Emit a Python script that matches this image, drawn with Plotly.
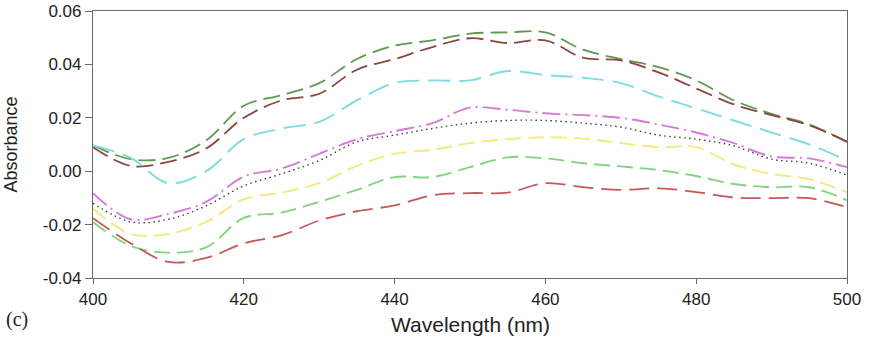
import plotly.graph_objects as go

wavelength = [400, 405, 410, 415, 420, 425, 430, 435, 440, 445, 450,
              455, 460, 465, 470, 475, 480, 485, 490, 495, 500]

dark_green = [0.0097, 0.0045, 0.0050, 0.0115, 0.0245, 0.0285, 0.0330, 0.0420, 0.0470, 0.0490, 0.0515,
              0.0520, 0.0520, 0.0455, 0.0420, 0.0390, 0.0340, 0.0265, 0.0215, 0.0175, 0.0110]
brown = [0.0090, 0.0020, 0.0035, 0.0085, 0.0200, 0.0265, 0.0290, 0.0380, 0.0420, 0.0465, 0.0498,
         0.0480, 0.0490, 0.0425, 0.0415, 0.0370, 0.0310, 0.0250, 0.0210, 0.0172, 0.0110]
cyan = [0.0097, 0.0050, -0.0045, 0.0000, 0.0120, 0.0160, 0.0185, 0.0265, 0.0330, 0.0340, 0.0340,
        0.0375, 0.0360, 0.0350, 0.0330, 0.0280, 0.0235, 0.0190, 0.0145, 0.0100, 0.0040]
magenta = [-0.0082, -0.0180, -0.0160, -0.0115, -0.0020, 0.0010, 0.0065, 0.0120, 0.0150, 0.0180, 0.0238,
           0.0230, 0.0217, 0.0210, 0.0200, 0.0175, 0.0145, 0.0105, 0.0055, 0.0048, 0.0015]
black_dot = [-0.0120, -0.0190, -0.0180, -0.0130, -0.0055, -0.0010, 0.0040, 0.0110, 0.0135, 0.0160, 0.0180,
             0.0190, 0.0190, 0.0180, 0.0165, 0.0135, 0.0120, 0.0095, 0.0045, 0.0030, -0.0015]
yellow = [-0.0140, -0.0235, -0.0235, -0.0190, -0.0105, -0.0080, -0.0045, 0.0020, 0.0065, 0.0080, 0.0105,
          0.0120, 0.0127, 0.0122, 0.0105, 0.0090, 0.0090, 0.0025, -0.0010, -0.0030, -0.0079]
light_green = [-0.0190, -0.0280, -0.0305, -0.0285, -0.0175, -0.0155, -0.0115, -0.0070, -0.0022, -0.0022, 0.0015,
               0.0052, 0.0048, 0.0030, 0.0018, 0.0004, -0.0018, -0.0048, -0.0060, -0.0060, -0.0109]
red = [-0.0176, -0.0270, -0.0340, -0.0325, -0.0270, -0.0240, -0.0185, -0.0150, -0.0128, -0.0090, -0.0082,
       -0.0080, -0.0045, -0.0060, -0.0070, -0.0064, -0.0078, -0.0098, -0.0101, -0.0101, -0.0135]

x_ticks = [400, 420, 440, 460, 480, 500]
x_tick_labels = ["400", "420", "440", "460", "480", "500"]
y_ticks = [-0.04, -0.02, 0.0, 0.02, 0.04, 0.06]
y_tick_labels = ["-0.04", "-0.02", "0.00", "0.02", "0.04", "0.06"]

series = [
    ("dark green", dark_green, "#5e9a4e", "17px,7px", 1.8),
    ("brown", brown, "#8c4444", "17px,7px", 1.8),
    ("cyan", cyan, "#7cdde2", "22px,9px", 1.9),
    ("magenta", magenta, "#d47ad8", "18px,5px,2px,5px", 1.9),
    ("black", black_dot, "#404040", "1.5px,3.5px", 1.4),
    ("yellow", yellow, "#f2ea7c", "16px,7px", 1.9),
    ("light green", light_green, "#82d482", "16px,7px", 1.9),
    ("red", red, "#c65858", "20px,8px", 1.8),
]

fig = go.Figure()
for name, vals, color, dash, w in series:
    fig.add_trace(go.Scatter(
        x=wavelength, y=vals, mode="lines", name=name,
        line=dict(color=color, dash=dash, width=w, shape="spline", smoothing=1.0),
        showlegend=False,
    ))

sans = "Liberation Sans, Arial, sans-serif"
tick_font = dict(family=sans, size=17, color="#222")

fig.update_layout(
    width=870, height=338,
    margin=dict(l=93, r=23, t=11, b=60),
    paper_bgcolor="white", plot_bgcolor="white",
    font=tick_font,
    xaxis=dict(
        range=[400, 500], tickvals=x_ticks, ticktext=x_tick_labels,
        showgrid=False, zeroline=False, automargin=False,
        showline=True, linecolor="#6a6a6a", linewidth=1.2, mirror=True,
        ticks="outside", ticklen=5, tickcolor="#6a6a6a",
        tickfont=tick_font, ticklabeloverflow="allow",
    ),
    yaxis=dict(
        range=[-0.04, 0.06], tickvals=y_ticks, ticktext=y_tick_labels,
        showgrid=False, zeroline=False, automargin=False,
        showline=True, linecolor="#6a6a6a", linewidth=1.2, mirror=True,
        ticks="outside", ticklen=7, tickcolor="#6a6a6a",
        tickfont=tick_font, ticklabeloverflow="allow",
    ),
    annotations=[
        dict(text="Wavelength (nm)", xref="paper", yref="paper", x=0.5, y=-0.176,
             xanchor="center", yanchor="middle", showarrow=False,
             font=dict(family=sans, size=21, color="#222")),
        dict(text="Absorbance", xref="paper", yref="paper", x=-0.110, y=0.5,
             xanchor="center", yanchor="middle", showarrow=False, textangle=-90,
             font=dict(family=sans, size=18, color="#222")),
        dict(text="(c)", xref="paper", yref="paper", x=-0.101, y=-0.157,
             xanchor="center", yanchor="middle", showarrow=False,
             font=dict(family="Liberation Serif, Times New Roman, serif", size=20, color="#222")),
    ],
)

fig.write_html("out.html", config={"displayModeBar": False},
               post_script="document.body.style.margin='0px';")
